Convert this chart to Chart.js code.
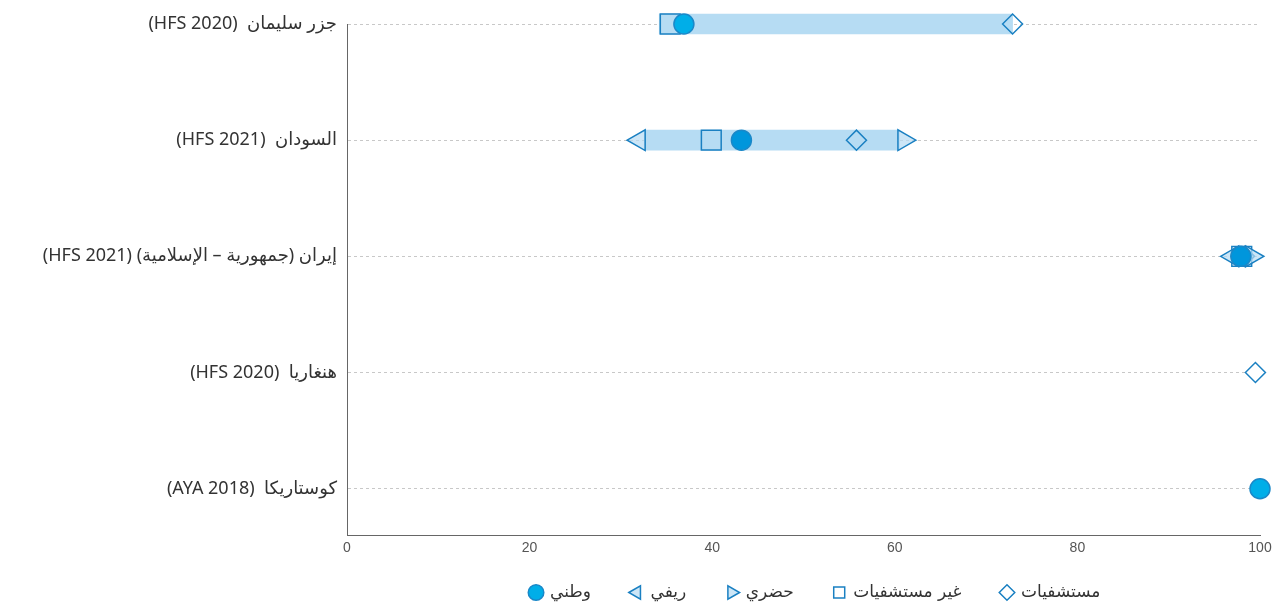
<!DOCTYPE html>
<html lang="ar">
<head>
<meta charset="utf-8">
<script src="https://cdn.jsdelivr.net/npm/chart.js@4.4.1/dist/chart.umd.min.js"></script>
<style>
    html, body { margin: 0; background: #fff; }
    #wrap { width: 1283px; height: 608px; direction: rtl; }
</style>
</head>
<body>
<div id="wrap"><canvas id="chart"></canvas></div>
<script>
const countries = [
    'جزر سليمان  (HFS 2020)',
    'السودان  (HFS 2021)',
    'إيران (جمهورية – الإسلامية) (HFS 2021)',
    'هنغاريا  (HFS 2020)',
    'كوستاريكا  (AYA 2018)'
]

// values per country, null where there is no mark
const national = [36.9, 43.2, 97.9, null, 100]
const rural = [null, 32.0, 97.0, null, null]
const urban = [null, 61.0, 99.1, null, null]
const nonHospital = [35.4, 39.9, 98.0, null, null]
const hospital = [72.9, 55.8, 98.3, 99.5, null]

// light blue range band
const rangeLow = [34.2, 32.6, 97.6, null, null]
const rangeHigh = [72.9, 60.5, 98.6, null, null]

const xTicks = [0, 20, 40, 60, 80, 100]

const seriesNames = ['وطني', 'ريفي', 'حضري', 'غير مستشفيات', 'مستشفيات']
const nationalColors = ['#00aee8', '#0096dc', '#0096dc', '#00aee8', '#00aee8']

const stroke = '#1a80c2'
const band = '#b6dcf3'
const legendPad = 40

function points(values) {
    const out = []
    values.forEach((v, i) => {
        if (v != null) out.push({ x: v, y: i })
    })
    return out
}

function ranges() {
    const out = []
    rangeLow.forEach((lo, i) => {
        if (lo != null) out.push({ x: [lo, rangeHigh[i]], y: i })
    })
    return out
}

const marker = {
    type: 'scatter',
    borderColor: stroke,
    borderWidth: 1.5,
    clip: false
}

// legend: fixed height, centred under the plot area
const placeLegend = {
    id: 'placeLegend',
    beforeLayout(chart) {
        const l = chart.legend
        if (l && !l._fixed) {
            const fit = l.fit.bind(l)
            l.fit = function () { fit(); this.height = 46 }
            l._fixed = true
        }
    },
    afterLayout(chart) {
        const l = chart.legend
        const a = chart.chartArea
        const dx = (a.left + a.right) / 2 - (l.left + l.right) / 2 + 12
        l.left += dx
        l.right += dx
        l.top += 22 - legendPad
    }
}

new Chart(document.getElementById('chart'), {
    type: 'bar',
    data: {
        datasets: [
            { ...marker, label: seriesNames[0], data: points(national), pointStyle: 'circle', pointRadius: 10,
              backgroundColor: c => nationalColors[c.raw ? c.raw.y : 0], borderColor: '#1a88c8' },
            { ...marker, label: seriesNames[1], data: points(rural), pointStyle: 'triangle', rotation: -90, pointRadius: 12,
              backgroundColor: 'rgba(182,220,243,0.7)' },
            { ...marker, label: seriesNames[2], data: points(urban), pointStyle: 'triangle', rotation: 90, pointRadius: 12,
              backgroundColor: 'rgba(182,220,243,0.7)' },
            { ...marker, label: seriesNames[3], data: points(nonHospital), pointStyle: 'rect', pointRadius: 14,
              backgroundColor: 'rgba(0,0,0,0)' },
            { ...marker, label: seriesNames[4], data: points(hospital), pointStyle: 'rectRot', pointRadius: 10,
              backgroundColor: c => (c.raw && rangeLow[c.raw.y] != null) ? 'rgba(0,0,0,0)' : '#fff' },
            { type: 'bar', label: 'range', data: ranges(), backgroundColor: band, barThickness: 20, borderWidth: 0, clip: false }
        ]
    },
    options: {
        indexAxis: 'y',
        responsive: true,
        maintainAspectRatio: false,
        animation: false,
        layout: { padding: { top: 24, right: 23, left: 0, bottom: 0 } },
        plugins: {
            tooltip: { enabled: false },
            legend: {
                position: 'bottom',
                labels: {
                    usePointStyle: true,
                    boxWidth: 11,
                    boxHeight: 11,
                    padding: legendPad,
                    color: '#333',
                    font: { family: "'Liberation Sans Narrow', 'DejaVu Sans', sans-serif", size: 17 },
                    filter: item => item.datasetIndex < 5
                }
            }
        },
        scales: {
            x: {
                type: 'linear',
                min: 0,
                max: 100,
                afterBuildTicks: s => { s.ticks = xTicks.map(v => ({ value: v })) },
                ticks: {
                    color: '#555',
                    padding: 5,
                    font: { family: "'Liberation Sans Narrow', 'Liberation Sans', sans-serif", size: 14 }
                },
                grid: { display: false, drawTicks: false },
                border: { display: true, color: '#666', width: 1 }
            },
            y: {
                type: 'linear',
                reverse: true,
                offset: false,
                min: 0,
                max: 4.4,
                afterBuildTicks: s => { s.ticks = countries.map((c, i) => ({ value: i })) },
                afterFit: s => { s.width = 347 },
                ticks: {
                    autoSkip: false,
                    color: '#333',
                    padding: 10,
                    font: { family: "'Noto Sans', 'DejaVu Sans', sans-serif", size: 18 },
                    callback: v => countries[v]
                },
                grid: { color: '#c8c8c8', lineWidth: 1, drawTicks: false, offset: false },
                border: { display: true, color: '#666', width: 1, dash: [3, 3] }
            }
        }
    },
    plugins: [placeLegend]
})
</script>
</body>
</html>
